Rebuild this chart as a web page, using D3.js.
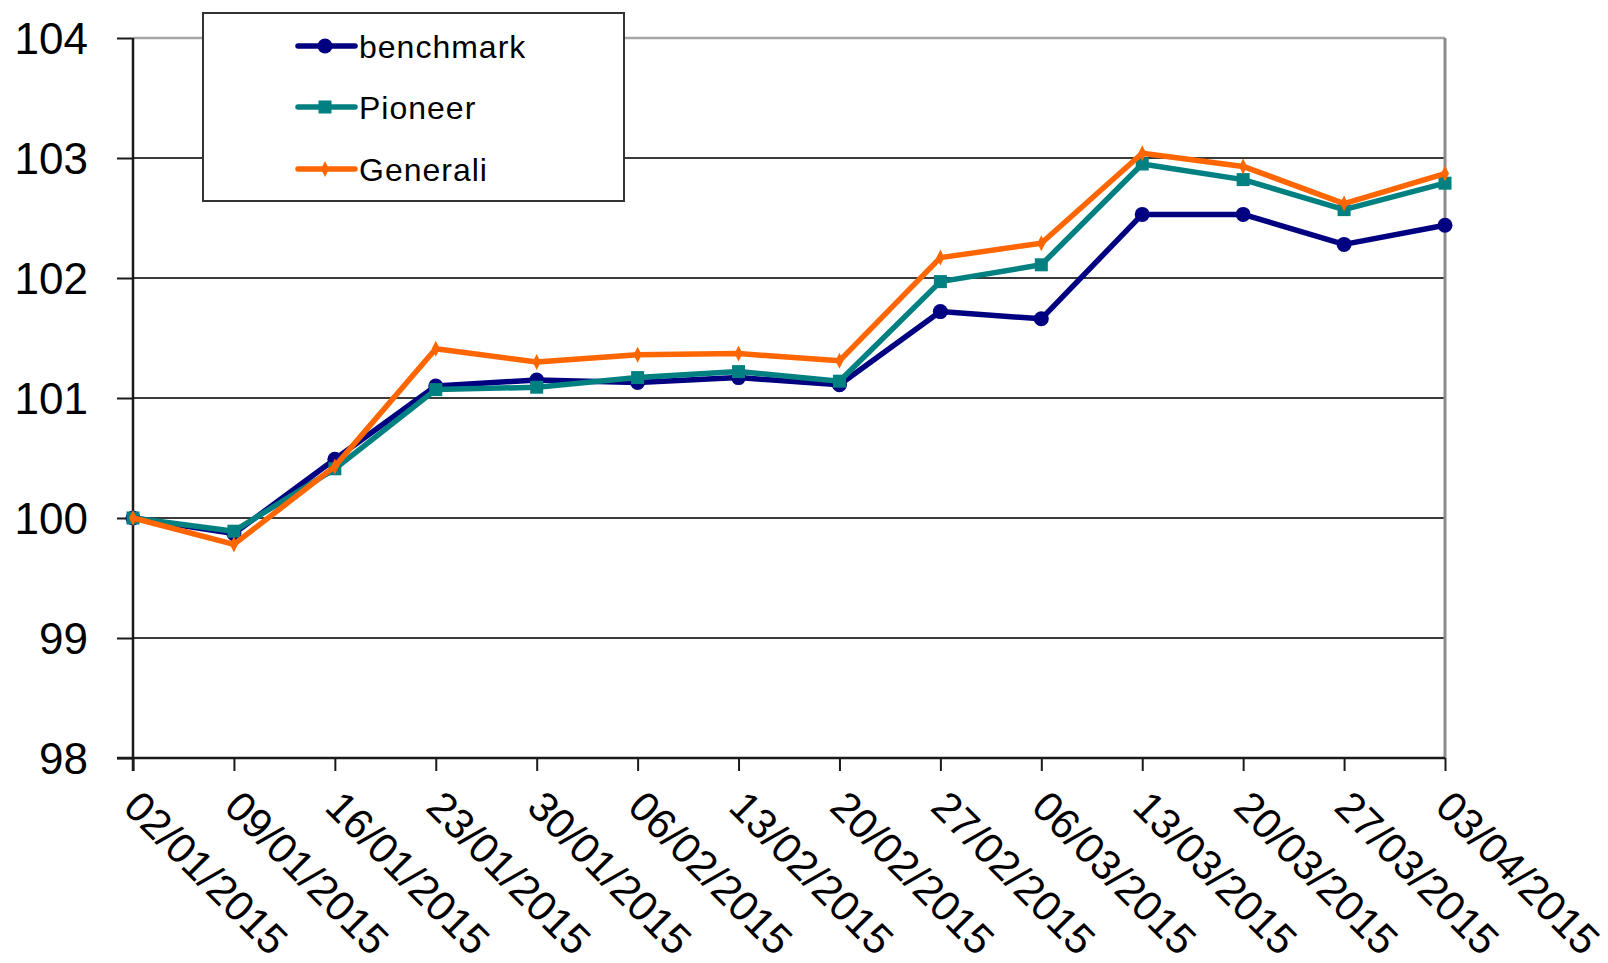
<!DOCTYPE html>
<html>
<head>
<meta charset="utf-8">
<script src="https://cdn.jsdelivr.net/npm/d3@7"></script>
<style>
  html, body { margin: 0; padding: 0; background: #fff; }
  svg { display: block; font-family: "Liberation Sans", Arial, sans-serif; }
</style>
</head>
<body>
<svg id="chart" width="1608" height="963"></svg>
<script>
const dates = ["02/01/2015","09/01/2015","16/01/2015","23/01/2015","30/01/2015","06/02/2015","13/02/2015","20/02/2015","27/02/2015","06/03/2015","13/03/2015","20/03/2015","27/03/2015","03/04/2015"];
const benchmark = [100.00, 99.87, 100.49, 101.10, 101.15, 101.13, 101.17, 101.11, 101.72, 101.66, 102.53, 102.53, 102.28, 102.44];
const pioneer   = [100.00, 99.89, 100.41, 101.07, 101.09, 101.17, 101.22, 101.14, 101.97, 102.11, 102.95, 102.82, 102.57, 102.79];
const generali  = [100.00, 99.78, 100.43, 101.41, 101.30, 101.36, 101.37, 101.31, 102.17, 102.29, 103.04, 102.93, 102.62, 102.87];
const yTicks = [98, 99, 100, 101, 102, 103, 104];
const seriesNames = ["benchmark", "Pioneer", "Generali"];
const seriesColors = ["#000080", "#008080", "#FF6600"];

(function () {
const svg = d3.select("#chart");
const pLeft = 133, pRight = 1445, pTop = 38, pBottom = 758;

const x = d3.scalePoint().domain(dates).range([pLeft, pRight]);
const y = d3.scaleLinear().domain([98, 104]).range([pBottom, pTop]);

// gridlines
svg.append("g").selectAll("line").data(yTicks.filter(t => t > 98 && t < 104)).join("line")
  .attr("x1", pLeft).attr("x2", pRight)
  .attr("y1", d => y(d)).attr("y2", d => y(d))
  .attr("stroke", "#3a3a3a").attr("stroke-width", 2);

// plot area border (top, right) gray
svg.append("line").attr("x1", pLeft).attr("x2", pRight).attr("y1", y(104)).attr("y2", y(104))
  .attr("stroke", "#a6a6a6").attr("stroke-width", 2.5);
svg.append("line").attr("x1", pRight).attr("x2", pRight).attr("y1", y(104)).attr("y2", y(98))
  .attr("stroke", "#8c8c8c").attr("stroke-width", 3);

// y axis
const yAxis = d3.axisLeft(y).tickValues(yTicks).tickSize(16).tickFormat(d3.format("d"));
const gy = svg.append("g").attr("transform", `translate(${pLeft},0)`).call(yAxis);
gy.select(".domain").remove();
gy.selectAll(".tick line").attr("stroke", "#1a1a1a").attr("stroke-width", 2);
gy.selectAll(".tick text").attr("x", -45).attr("dy", "0.36em")
  .attr("font-size", 44).attr("fill", "#000").attr("font-family", "Liberation Sans, Arial, sans-serif");
svg.append("line").attr("x1", pLeft).attr("x2", pLeft).attr("y1", y(104)).attr("y2", y(98) + 13)
  .attr("stroke", "#1a1a1a").attr("stroke-width", 2.5);

// x axis
const xAxis = d3.axisBottom(x).tickSize(13).tickFormat(d => d);
const gx = svg.append("g").attr("transform", `translate(0,${pBottom})`).call(xAxis);
gx.select(".domain").remove();
gx.selectAll(".tick line").attr("stroke", "#1a1a1a").attr("stroke-width", 2);
gx.selectAll(".tick text")
  .attr("font-size", 42).attr("fill", "#000").attr("font-family", "Liberation Sans, Arial, sans-serif")
  .attr("text-anchor", "start").attr("y", 0).attr("dy", 0)
  .attr("transform", "translate(-12,51) rotate(45)");
svg.append("line").attr("x1", pLeft - 16).attr("x2", pRight).attr("y1", pBottom).attr("y2", pBottom)
  .attr("stroke", "#1a1a1a").attr("stroke-width", 2.5);

// series
const allSeries = [benchmark, pioneer, generali];
const line = d3.line().x((d, i) => x(dates[i])).y(d => y(d));

function drawMarker(g, k, cx, cy, color) {
  if (k === 0) {
    g.append("circle").attr("cx", cx).attr("cy", cy).attr("r", 7.5).attr("fill", color);
  } else if (k === 1) {
    g.append("rect").attr("x", cx - 6.5).attr("y", cy - 6.5).attr("width", 13).attr("height", 13).attr("fill", color);
  } else {
    g.append("path").attr("d", `M${cx},${cy - 8}L${cx + 4},${cy}L${cx},${cy + 8}L${cx - 4},${cy}Z`).attr("fill", color);
  }
}

allSeries.forEach((vals, k) => {
  const g = svg.append("g");
  g.append("path").datum(vals).attr("d", line)
    .attr("fill", "none").attr("stroke", seriesColors[k]).attr("stroke-width", 5.5)
    .attr("stroke-linejoin", "round");
  vals.forEach((v, i) => drawMarker(g, k, x(dates[i]), y(v), seriesColors[k]));
});

// legend
const lg = svg.append("g");
lg.append("rect").attr("x", 203).attr("y", 13).attr("width", 421).attr("height", 188)
  .attr("fill", "#fff").attr("stroke", "#333").attr("stroke-width", 2);
const legY = [46, 107, 169];
seriesNames.forEach((name, k) => {
  const ly = legY[k];
  lg.append("line").attr("x1", 298).attr("x2", 355).attr("y1", ly).attr("y2", ly)
    .attr("stroke", seriesColors[k]).attr("stroke-width", 5.5).attr("stroke-linecap", "round");
  drawMarker(lg, k, 325, ly, seriesColors[k]);
  lg.append("text").attr("x", 359).attr("y", ly + 12).text(name)
    .attr("font-size", 32).attr("letter-spacing", 1).attr("fill", "#000");
});
})();
</script>
</body>
</html>
